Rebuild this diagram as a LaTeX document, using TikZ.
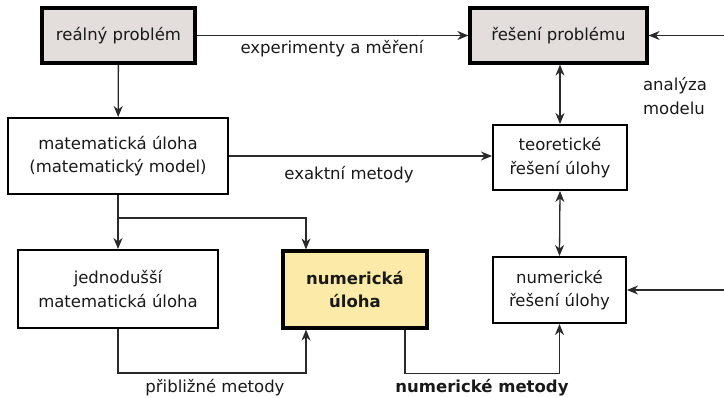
\documentclass[tikz,border=0pt]{standalone}
\usepackage{fontspec}
\setmainfont{DejaVu Sans}
\usetikzlibrary{arrows.meta}
\definecolor{boxgray}{HTML}{E3DEDC}
\definecolor{boxyellow}{HTML}{FCEBA8}
\definecolor{linegray}{HTML}{2A2A2A}
\begin{document}
\begin{tikzpicture}[x=1pt,y=-1pt,
    every node/.style={font=\fontsize{16.5}{23.5}\selectfont, text=black!90},
    box/.style={draw, line width=2pt, inner sep=0pt, align=center},
    keybox/.style={box, line width=3.2pt, fill=boxgray},
    conn/.style={draw=linegray, line width=1.3pt},
    arr/.style={conn, -{Stealth[length=11pt,width=9pt,inset=3.5pt]}},
    darr/.style={conn, {Stealth[length=11pt,width=9pt,inset=3.5pt]}-{Stealth[length=11pt,width=9pt,inset=3.5pt]}}]
    \useasboundingbox (0,0) rectangle (724,397);
    % boxes
    \node[keybox, minimum width=153pt, minimum height=55pt] (real) at (118.5,35.5) {reálný problém};
    \node[keybox, minimum width=177pt, minimum height=55pt] (sol) at (558.5,35.5) {řešení problému};
    \node[box, minimum width=220pt, minimum height=76pt] (mat) at (118,156) {matematická úloha\\(matematický model)};
    \node[box, minimum width=134pt, minimum height=65pt] (teo) at (560,157.5) {teoretické\\řešení úlohy};
    \node[box, minimum width=200pt, minimum height=78pt] (jed) at (118,289) {jednodušší\\matematická úloha};
    \node[box, line width=3.2pt, fill=boxyellow, minimum width=144pt, minimum height=77pt, font=\fontsize{16.5}{23.5}\selectfont\bfseries] (num) at (355,289.5) {numerická\\úloha};
    \node[box, minimum width=133pt, minimum height=66pt] (nres) at (559.5,290) {numerické\\řešení úlohy};
    % free ends
    \coordinate (split) at (118,218);
    \coordinate (rtop) at (724,35.5);
    \coordinate (rbot) at (724,290);
    % connectors
    \draw[arr] (real) -- (sol);
    \draw[arr] (real) -- (mat);
    \draw[arr] (mat.east) -- (mat.east -| teo.west);
    \draw[darr] (teo.north) -- (teo.north |- sol.south);
    \draw[darr] (teo.south) -- (nres.north);
    \draw[conn] (mat.south) -- (split);
    \draw[arr] (split) -- (jed.north);
    \draw[arr] (split) -| ([xshift=-49pt]num.north);
    \draw[arr] (jed.south) -- ++(0,44) -| ([xshift=-49pt]num.south);
    \draw[arr] ([xshift=50pt]num.south) -- ++(0,44) -| (nres.south);
    \draw[arr] (rtop) -- (sol.east);
    \draw[arr] (rbot) -- (nres.east);
    % labels
    \node (lexp) at (332,49) {experimenty a měření};
    \node (lexa) at (349,175) {exaktní metody};
    \node[align=left] (lana) at (675,96) {analýza\\modelu};
    \node (lpri) at (215,388) {přibližné metody};
    \node[font=\fontsize{16.5}{23.5}\selectfont\bfseries] (lnum) at (482,388) {numerické metody};
\end{tikzpicture}
\end{document}
